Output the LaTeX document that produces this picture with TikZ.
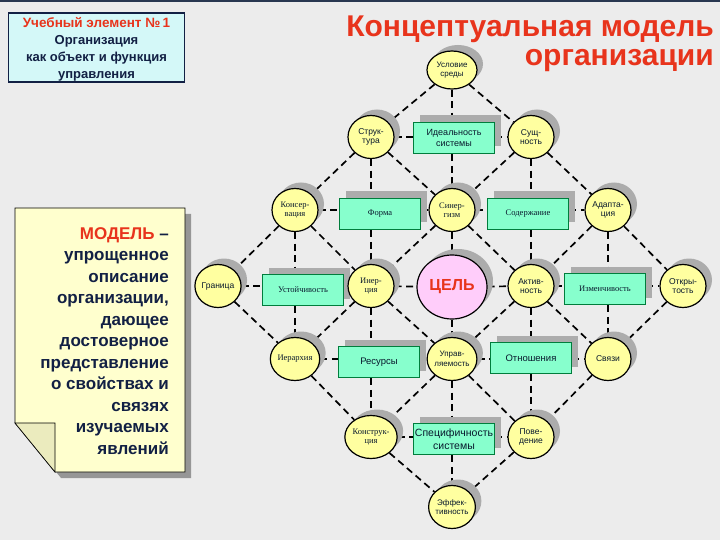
\documentclass[tikz,border=0pt]{standalone}
\usepackage{fontspec}
\setmainfont{Liberation Sans}
\newfontfamily\rmru{Liberation Serif}
\usetikzlibrary{shapes.geometric,shadows}
\pgfdeclarelayer{bglayer}
\pgfdeclarelayer{linelayer}
\pgfsetlayers{bglayer,linelayer,main}
\definecolor{bgc}{RGB}{236,236,236}
\definecolor{topbar}{RGB}{40,55,80}
\definecolor{titred}{RGB}{232,52,28}
\definecolor{navy}{RGB}{18,32,68}
\definecolor{cyanbox}{RGB}{212,248,248}
\definecolor{ylw}{RGB}{255,255,160}
\definecolor{grn}{RGB}{135,255,205}
\definecolor{grnbd}{RGB}{0,125,60}
\definecolor{pnk}{RGB}{255,205,250}
\definecolor{shd}{RGB}{172,172,172}
\definecolor{shdn}{RGB}{150,150,150}
\definecolor{notey}{RGB}{255,255,206}
\definecolor{txt}{RGB}{8,25,45}
\begin{document}
\begin{tikzpicture}[x=1pt,y=-1pt,
  circ/.style={ellipse, draw=black, line width=1.2pt, fill=ylw,
    minimum width=46pt, minimum height=43pt, inner sep=0pt, align=center,
    text=txt, font=\fontsize{8.5}{9.5}\selectfont,
    general shadow={fill=shd, shadow xshift=6pt, shadow yshift=6pt}},
  circs/.style={circ, font=\rmru\fontsize{8.5}{9.5}\selectfont},
  rbox/.style={rectangle, draw=grnbd, line width=1.6pt, fill=grn,
    minimum width=81pt, minimum height=31pt, inner sep=1pt, align=center,
    text=txt, font=\fontsize{9.5}{11}\selectfont,
    general shadow={fill=shd, shadow xshift=6pt, shadow yshift=7pt}},
  rboxs/.style={rbox, font=\rmru\fontsize{8.5}{10}\selectfont},
  conn/.style={line width=1.7pt, dash pattern=on 7pt off 4.5pt}
]
\begin{pgfonlayer}{bglayer}
\fill[bgc] (0,0) rectangle (720,540);
\fill[topbar] (0,0) rectangle (720,2.5);
\end{pgfonlayer}
\useasboundingbox (0,0) rectangle (720,540);

% title
\node[anchor=base east, text=titred, font=\bfseries\fontsize{30}{30}\selectfont, inner sep=0pt] (t1) at (714,37) {Концептуальная модель};
\node[anchor=base east, text=titred, font=\bfseries\fontsize{30}{30}\selectfont, inner sep=0pt] (t2) at (714,66) {организации};

% top-left box
\node[draw=navy, line width=1.6pt, fill=cyanbox, minimum width=176pt, minimum height=69pt, inner sep=0pt] (ubox) at (96.5,47.5) {};
\node[align=center, text=navy, font=\bfseries\fontsize{13}{16.8}\selectfont, inner sep=0pt] (utext) at (96.5,49.5)
  {\textcolor{titred}{\fontsize{13.5}{16.8}\selectfont Учебный элемент №\,1}\\Организация\\как объект и функция\\управления};

% note box
\fill[shdn] (21,214) -- (191,214) -- (191,478) -- (61,478) -- (21,429) -- cycle;
\draw[fill=notey, line width=0.8pt] (15,208) -- (185,208) -- (185,472) -- (55,472) -- (15,423) -- cycle;
\draw[fill=notey!92!black, line width=0.6pt] (15,423) -- (55,423) -- (55,472) -- cycle;
\node[anchor=north east, align=right, text=navy, font=\bfseries\fontsize{17}{21.5}\selectfont, inner sep=0pt] (note) at (169,227)
  {\textcolor{titred}{МОДЕЛЬ} –\\упрощенное\\описание\\организации,\\дающее\\достоверное\\представление\\о свойствах и\\связях\\изучаемых\\явлений};

% nodes
\node[circ, minimum width=50pt, minimum height=38pt, font=\fontsize{8}{9}\selectfont] (us) at (452,70) {Условие\\среды};
\node[circ] (str) at (371,137) {Струк-\\тура};
\node[rbox, font=\fontsize{9}{11}\selectfont] (ideal) at (454,138) {Идеальность\\системы};
\node[circ] (sush) at (531,137) {Сущ-\\ность};
\node[circs] (kons) at (295,210) {Консер-\\вация};
\node[rboxs] (forma) at (380,214) {Форма};
\node[circs] (sin) at (452,210) {Синер-\\гизм};
\node[rboxs] (sod) at (528,214) {Содержание};
\node[circ] (adap) at (608,210) {Адапта-\\ция};
\node[circ] (gran) at (218,286) {Граница};
\node[rboxs] (ust) at (303,290) {Устойчивость};
\node[circs] (iner) at (371,286) {Инер-\\ция};
\node[ellipse, draw=black, line width=1.2pt, fill=pnk, minimum width=70pt, minimum height=64pt, inner sep=0pt,
  text=titred, font=\bfseries\fontsize{16}{16}\selectfont,
  general shadow={fill=shd, shadow xshift=6pt, shadow yshift=6pt}] (cel) at (452,287) {ЦЕЛЬ};
\node[circ] (akt) at (531,286) {Актив-\\ность};
\node[rboxs] (izm) at (605,289) {Изменчивость};
\node[circ] (otkr) at (683,286) {Откры-\\тость};
\node[circs] (ier) at (295,359) {Иерархия};
\node[rbox] (res) at (379,362) {Ресурсы};
\node[circ, font=\fontsize{8}{9.5}\selectfont] (upr) at (452,359) {Управ-\\ляемость};
\node[rbox] (otn) at (531,358) {Отношения};
\node[circ] (svy) at (608,359) {Связи};
\node[circs] (konstr) at (371,437) {Конструк-\\ция};
\node[rbox, font=\fontsize{10.5}{12.5}\selectfont] (spec) at (454,439) {Специфичность\\системы};
\node[circ] (pov) at (531,437) {Пове-\\дение};
\node[circ, font=\fontsize{8}{9.5}\selectfont] (eff) at (452,507) {Эффек-\\тивность};

% connectors
\begin{pgfonlayer}{linelayer}
\begin{scope}[conn]
% diagonals down-right
\draw (us) -- (sush); \draw (sush) -- (adap); \draw (adap) -- (otkr);
\draw (str) -- (sin); \draw (sin) -- (akt); \draw (akt) -- (svy);
\draw (kons) -- (iner); \draw (iner) -- (upr); \draw (upr) -- (pov);
\draw (gran) -- (ier); \draw (ier) -- (konstr); \draw (konstr) -- (eff);
% diagonals down-left
\draw (us) -- (str); \draw (str) -- (kons); \draw (kons) -- (gran);
\draw (sush) -- (sin); \draw (sin) -- (iner); \draw (iner) -- (ier);
\draw (adap) -- (akt); \draw (akt) -- (upr); \draw (upr) -- (konstr);
\draw (otkr) -- (svy); \draw (svy) -- (pov); \draw (pov) -- (eff);
% verticals
\draw (us) -- (us |- ideal.north); \draw (us |- ideal.south) -- (sin);
\draw (sin) -- (cel); \draw (cel) -- (upr);
\draw (upr) -- (upr |- spec.north); \draw (upr |- spec.south) -- (eff);
\draw (str) -- (str |- forma.north); \draw (str |- forma.south) -- (iner);
\draw (iner) -- (iner |- res.north); \draw (iner |- res.south) -- (konstr);
\draw (sush) -- (sush |- sod.north); \draw (sush |- sod.south) -- (akt);
\draw (akt) -- (akt |- otn.north); \draw (akt |- otn.south) -- (pov);
\draw (kons) -- (kons |- ust.north); \draw (kons |- ust.south) -- (ier);
\draw (adap) -- (adap |- izm.north); \draw (adap |- izm.south) -- (svy);
% horizontals
\draw (str) -- (str -| ideal.west); \draw (ideal.east |- str) -- (sush);
\draw (kons) -- (kons -| forma.west); \draw (forma.east |- kons) -- (sin);
\draw (sin) -- (sin -| sod.west); \draw (sod.east |- sin) -- (adap);
\draw (gran) -- (gran -| ust.west); \draw (ust.east |- gran) -- (iner);
\draw (iner) -- (cel); \draw (cel) -- (akt);
\draw (akt) -- (akt -| izm.west); \draw (izm.east |- akt) -- (otkr);
\draw (ier) -- (ier -| res.west); \draw (res.east |- ier) -- (upr);
\draw (upr) -- (upr -| otn.west); \draw (otn.east |- upr) -- (svy);
\draw (konstr) -- (konstr -| spec.west); \draw (spec.east |- konstr) -- (pov);
\end{scope}
\end{pgfonlayer}
\end{tikzpicture}
\end{document}
